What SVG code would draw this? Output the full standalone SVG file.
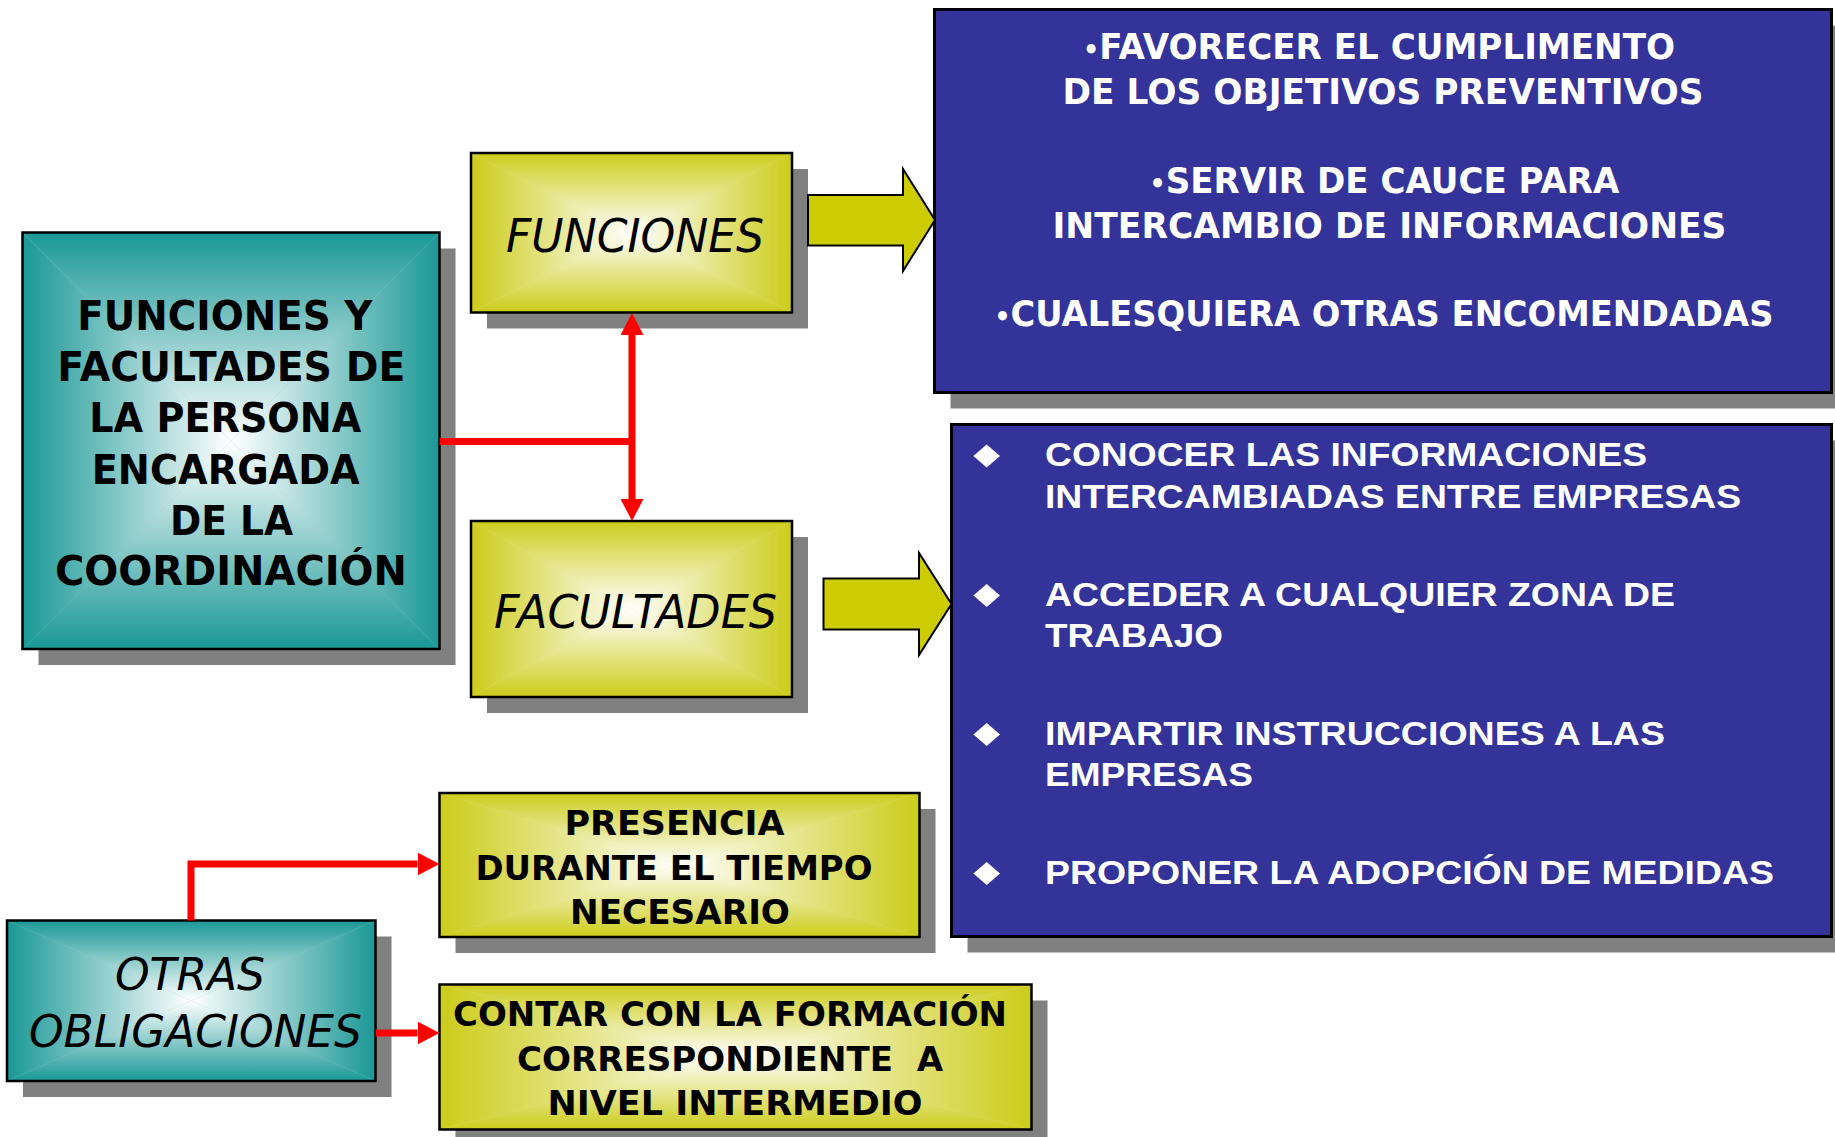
<svg xmlns="http://www.w3.org/2000/svg" width="1835" height="1137" viewBox="0 0 1835 1137">
<style>
.sh{fill:#808080}
.bx{fill:none;stroke:#000;stroke-width:2.5}
.blue{fill:#333399;stroke:#000;stroke-width:3}
.tb{font-family:"DejaVu Sans",Verdana,sans-serif;font-weight:bold;fill:#000}
.ti{font-family:"DejaVu Sans",Verdana,sans-serif;font-style:italic;fill:#000}
.tw{font-family:"DejaVu Sans",Verdana,sans-serif;font-weight:bold;fill:#fff;font-size:35px}
.ta{font-family:"Liberation Sans",Arial,sans-serif;font-weight:bold;fill:#fff;font-size:33px}
.red{fill:none;stroke:#f00;stroke-width:7}
.blk{fill:#CCCC00;stroke:#000;stroke-width:2;stroke-linejoin:miter}
.dia{fill:#fff}
</style>
<defs>
<linearGradient id="tT" x1="0" y1="0" x2="0" y2="1"><stop offset="0" stop-color="#1A9896"/><stop offset="1" stop-color="#FFFFFF"/></linearGradient>
<linearGradient id="tB" x1="0" y1="1" x2="0" y2="0"><stop offset="0" stop-color="#1A9896"/><stop offset="1" stop-color="#FFFFFF"/></linearGradient>
<linearGradient id="tL" x1="0" y1="0" x2="1" y2="0"><stop offset="0" stop-color="#1A9896"/><stop offset="1" stop-color="#FFFFFF"/></linearGradient>
<linearGradient id="tR" x1="1" y1="0" x2="0" y2="0"><stop offset="0" stop-color="#1A9896"/><stop offset="1" stop-color="#FFFFFF"/></linearGradient>
<linearGradient id="yT" x1="0" y1="0" x2="0" y2="1"><stop offset="0" stop-color="#CCCC1A"/><stop offset="1" stop-color="#FFFFFF"/></linearGradient>
<linearGradient id="yB" x1="0" y1="1" x2="0" y2="0"><stop offset="0" stop-color="#CCCC1A"/><stop offset="1" stop-color="#FFFFFF"/></linearGradient>
<linearGradient id="yL" x1="0" y1="0" x2="1" y2="0"><stop offset="0" stop-color="#CCCC1A"/><stop offset="1" stop-color="#FFFFFF"/></linearGradient>
<linearGradient id="yR" x1="1" y1="0" x2="0" y2="0"><stop offset="0" stop-color="#CCCC1A"/><stop offset="1" stop-color="#FFFFFF"/></linearGradient>
<symbol id="teal" viewBox="0 0 100 100" preserveAspectRatio="none">
<rect width="100" height="100" fill="#8DCCCB"/>
<polygon points="0,0 100,0 50,50" fill="url(#tT)"/>
<polygon points="0,100 100,100 50,50" fill="url(#tB)"/>
<polygon points="0,0 0,100 50,50" fill="url(#tL)"/>
<polygon points="100,0 100,100 50,50" fill="url(#tR)"/>
</symbol>
<symbol id="yel" viewBox="0 0 100 100" preserveAspectRatio="none">
<rect width="100" height="100" fill="#E6E68C"/>
<polygon points="0,0 100,0 50,50" fill="url(#yT)"/>
<polygon points="0,100 100,100 50,50" fill="url(#yB)"/>
<polygon points="0,0 0,100 50,50" fill="url(#yL)"/>
<polygon points="100,0 100,100 50,50" fill="url(#yR)"/>
</symbol>
<marker id="ah" viewBox="0 -11.5 22 23" refX="0" refY="0" markerWidth="22" markerHeight="23" markerUnits="userSpaceOnUse" orient="auto-start-reverse">
<path d="M0,-11.5 L22,0 L0,11.5 z" fill="#f00"/>
</marker>
</defs>
<rect width="1835" height="1137" fill="#fff"/>

<g id="main">
<rect class="sh" x="38.5" y="248.5" width="417" height="416.5"/>
<use href="#teal" x="22.5" y="232.5" width="417" height="416.5"/>
<rect class="bx" x="22.5" y="232.5" width="417" height="416.5"/>
<g class="tb" font-size="41">
<text x="77.3" y="330" textLength="295" lengthAdjust="spacingAndGlyphs">FUNCIONES Y</text>
<text x="57.3" y="381" textLength="348" lengthAdjust="spacingAndGlyphs">FACULTADES DE</text>
<text x="89.3" y="432" textLength="272" lengthAdjust="spacingAndGlyphs">LA PERSONA</text>
<text x="91.7" y="483.5" textLength="268" lengthAdjust="spacingAndGlyphs">ENCARGADA</text>
<text x="170" y="535" textLength="123" lengthAdjust="spacingAndGlyphs">DE LA</text>
<text x="55" y="585" textLength="352" lengthAdjust="spacingAndGlyphs">COORDINACIÓN</text>
</g>
</g>

<g id="funciones">
<rect class="sh" x="487" y="169" width="321" height="159.5"/>
<use href="#yel" x="471" y="153" width="321" height="159.5"/>
<rect class="bx" x="471" y="153" width="321" height="159.5"/>
<text class="ti" font-size="46" x="506" y="251.5" textLength="258" lengthAdjust="spacingAndGlyphs">FUNCIONES</text>
</g>

<g id="facultades">
<rect class="sh" x="487" y="537" width="321" height="176"/>
<use href="#yel" x="471" y="521" width="321" height="176"/>
<rect class="bx" x="471" y="521" width="321" height="176"/>
<text class="ti" font-size="46" x="494" y="627.5" textLength="283" lengthAdjust="spacingAndGlyphs">FACULTADES</text>
</g>

<g id="objetivos">
<rect class="sh" x="950.5" y="25.5" width="897" height="383"/>
<rect class="blue" x="934.5" y="9.5" width="897" height="383"/>
<text class="tw" x="1083" y="58.5" textLength="592" lengthAdjust="spacingAndGlyphs"><tspan font-size="26">•</tspan>FAVORECER EL CUMPLIMENTO</text>
<text class="tw" x="1062.5" y="103.5" textLength="641" lengthAdjust="spacingAndGlyphs">DE LOS OBJETIVOS PREVENTIVOS</text>
<text class="tw" x="1149.5" y="192.5" textLength="470" lengthAdjust="spacingAndGlyphs"><tspan font-size="26">•</tspan>SERVIR DE CAUCE PARA</text>
<text class="tw" x="1052.5" y="237.5" textLength="674" lengthAdjust="spacingAndGlyphs">INTERCAMBIO DE INFORMACIONES</text>
<text class="tw" x="994.5" y="326" textLength="779" lengthAdjust="spacingAndGlyphs"><tspan font-size="26">•</tspan>CUALESQUIERA OTRAS ENCOMENDADAS</text>
</g>

<g id="facultades-lista">
<rect class="sh" x="967.5" y="440.5" width="880" height="512"/>
<rect class="blue" x="951.5" y="424.5" width="880" height="512"/>
<polygon class="dia" points="986.7,444.5 1000,456 986.7,467.5 973.4,456"/>
<polygon class="dia" points="986.7,584 1000,595.5 986.7,607 973.4,595.5"/>
<polygon class="dia" points="986.7,723 1000,734.5 986.7,746 973.4,734.5"/>
<polygon class="dia" points="986.7,862 1000,873.5 986.7,885 973.4,873.5"/>
<text class="ta" x="1045" y="466" textLength="602" lengthAdjust="spacingAndGlyphs">CONOCER LAS INFORMACIONES</text>
<text class="ta" x="1045" y="508" textLength="696" lengthAdjust="spacingAndGlyphs">INTERCAMBIADAS ENTRE EMPRESAS</text>
<text class="ta" x="1045" y="606" textLength="630" lengthAdjust="spacingAndGlyphs">ACCEDER A CUALQUIER ZONA DE</text>
<text class="ta" x="1045" y="646.5" textLength="178" lengthAdjust="spacingAndGlyphs">TRABAJO</text>
<text class="ta" x="1045" y="745" textLength="620" lengthAdjust="spacingAndGlyphs">IMPARTIR INSTRUCCIONES A LAS</text>
<text class="ta" x="1045" y="785.5" textLength="208" lengthAdjust="spacingAndGlyphs">EMPRESAS</text>
<text class="ta" x="1045" y="884" textLength="729" lengthAdjust="spacingAndGlyphs">PROPONER LA ADOPCIÓN DE MEDIDAS</text>
</g>

<g id="otras">
<rect class="sh" x="23" y="936.5" width="368.5" height="160.5"/>
<use href="#teal" x="7" y="920.5" width="368.5" height="160.5"/>
<rect class="bx" x="7" y="920.5" width="368.5" height="160.5"/>
<text class="ti" font-size="45" x="115" y="990" textLength="150" lengthAdjust="spacingAndGlyphs">OTRAS</text>
<text class="ti" font-size="45" x="29" y="1046.5" textLength="333" lengthAdjust="spacingAndGlyphs">OBLIGACIONES</text>
</g>

<g id="presencia">
<rect class="sh" x="455.5" y="809" width="480" height="144"/>
<use href="#yel" x="439.5" y="793" width="480" height="144"/>
<rect class="bx" x="439.5" y="793" width="480" height="144"/>
<g class="tb" font-size="34">
<text x="564.5" y="834.5" textLength="220" lengthAdjust="spacingAndGlyphs">PRESENCIA</text>
<text x="475.5" y="879.5" textLength="397" lengthAdjust="spacingAndGlyphs">DURANTE EL TIEMPO</text>
<text x="570" y="923.5" textLength="220" lengthAdjust="spacingAndGlyphs">NECESARIO</text>
</g>
</g>

<g id="contar">
<rect class="sh" x="455.5" y="1000.5" width="592" height="145"/>
<use href="#yel" x="439.5" y="984.5" width="592" height="145"/>
<rect class="bx" x="439.5" y="984.5" width="592" height="145"/>
<g class="tb" font-size="34">
<text x="453" y="1026" textLength="554" lengthAdjust="spacingAndGlyphs">CONTAR CON LA FORMACIÓN</text>
<text x="517" y="1071" textLength="426" lengthAdjust="spacingAndGlyphs" xml:space="preserve">CORRESPONDIENTE  A</text>
<text x="547.5" y="1115" textLength="375" lengthAdjust="spacingAndGlyphs">NIVEL INTERMEDIO</text>
</g>
</g>

<g id="connectors">
<path class="red" d="M439.5,441.5 H632"/>
<path class="red" d="M632,335 V499" marker-start="url(#ah)" marker-end="url(#ah)"/>
<path class="red" d="M191,920.5 V864 H417.5" marker-end="url(#ah)"/>
<path class="red" d="M375.5,1033 H417.5" marker-end="url(#ah)"/>
<polygon class="blk" points="808,195 903,195 903,169 935,220 903,271 903,245.5 808,245.5"/>
<polygon class="blk" points="823.5,578.5 919,578.5 919,553 951.5,604 919,655 919,629.5 823.5,629.5"/>
</g>
</svg>
